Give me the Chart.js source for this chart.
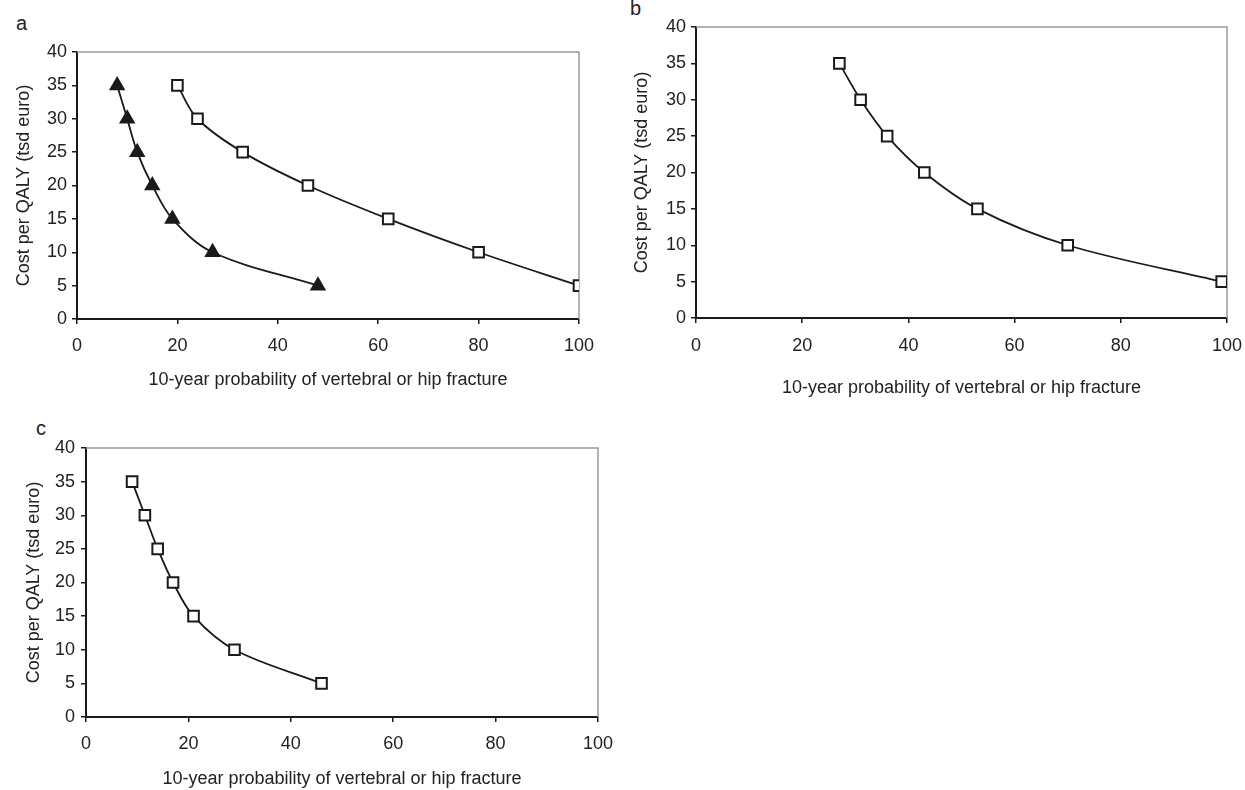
<!DOCTYPE html>
<html>
<head>
<meta charset="utf-8">
<script src="https://cdn.jsdelivr.net/npm/chart.js@4"></script>
<style>
  body { margin: 0; background: #fff; width: 1245px; height: 790px; overflow: hidden; position: relative; }
  canvas { position: absolute; }
  .tag { position: absolute; font-family: "Liberation Sans", Arial, sans-serif; font-size: 20px; color: #222; line-height: 1; }
</style>
</head>
<body>
<div class="tag" style="left:16px;top:13px">a</div>
<div class="tag" style="left:630px;top:-2px">b</div>
<div class="tag" style="left:36px;top:418px">c</div>
<canvas id="ca" width="610" height="370" style="left:0;top:30px"></canvas>
<canvas id="cb" width="625" height="405" style="left:620px;top:0"></canvas>
<canvas id="cc" width="620" height="372" style="left:0;top:420px"></canvas>
<script>
// cost per QALY (tsd euro), same for every curve
var costs = [35, 30, 25, 20, 15, 10, 5];
// 10-year fracture probability
var aTriangles = [8, 10, 12, 15, 19, 27, 48];
var aSquares = [20, 24, 33, 46, 62, 80, 100];
var bSquares = [27, 31, 36, 43, 53, 70, 99];
var cSquares = [9, 11.5, 14, 17, 21, 29, 46];

var yTitle = "Cost per QALY (tsd euro)";
var xTitle = "10-year probability of vertebral or hip fracture";

Chart.defaults.font.family = "'Liberation Sans', Arial, sans-serif";
Chart.defaults.color = "#222";

function points(xs) {
    return xs.map(function (x, i) { return { x: x, y: costs[i] }; });
}

function curve(xs, shape) {
    return {
        data: points(xs),
        showLine: true,
        borderColor: "#1a1a1a",
        borderWidth: 1.8,
        tension: 0.35,
        pointStyle: shape,
        pointRadius: 7.5,
        pointBorderWidth: 2,
        pointBorderColor: "#1a1a1a",
        pointBackgroundColor: shape == "triangle" ? "#1a1a1a" : "#fff"
    };
}

// grey frame on top and right side, like the old spreadsheet plot
var frame = {
    id: "frame",
    beforeDatasetsDraw: function (chart) {
        var a = chart.chartArea, ctx = chart.ctx;
        ctx.save();
        ctx.strokeStyle = "#9a9a9a";
        ctx.lineWidth = 1.5;
        ctx.beginPath();
        ctx.moveTo(a.left, a.top);
        ctx.lineTo(a.right, a.top);
        ctx.lineTo(a.right, a.bottom);
        ctx.stroke();
        ctx.restore();
    }
};

function draw(id, datasets, p) {
    new Chart(document.getElementById(id), {
        type: "scatter",
        data: { datasets: datasets },
        plugins: [frame],
        options: {
            responsive: false,
            animation: false,
            layout: { padding: { top: p.top, right: p.right, left: 0, bottom: 0 } },
            plugins: { legend: { display: false }, tooltip: { enabled: false } },
            scales: {
                x: {
                    min: 0, max: 100,
                    afterFit: function (s) { s.height = p.xh; s.paddingLeft = 0; s.paddingRight = 0; },
                    ticks: { stepSize: 20, padding: p.xpad, font: { size: 18 }, color: "#222", maxRotation: 0 },
                    grid: { drawOnChartArea: false, drawTicks: true, tickLength: 5, color: "#1a1a1a", lineWidth: 1.5 },
                    border: { display: true, color: "#1a1a1a", width: 2 },
                    title: { display: true, text: xTitle, font: { size: 18, lineHeight: 1.2 }, color: "#222", padding: { top: 0, bottom: p.xtpad } }
                },
                y: {
                    min: 0, max: 40,
                    afterFit: function (s) { s.width = p.yw; s.paddingTop = 0; s.paddingBottom = 0; },
                    ticks: { stepSize: 5, padding: p.ypad, font: { size: 18 }, color: "#222" },
                    grid: { drawOnChartArea: false, drawTicks: true, tickLength: 5, color: "#1a1a1a", lineWidth: 1.5 },
                    border: { display: true, color: "#1a1a1a", width: 2 },
                    title: { display: true, text: yTitle, font: { size: 18, lineHeight: 1.2 }, color: "#222", padding: { top: p.ytpad, bottom: 0 } }
                }
            }
        }
    });
}

draw("ca", [curve(aTriangles, "triangle"), curve(aSquares, "rect")],
     { top: 22, right: 31, xh: 81, yw: 77, xpad: 11.5, xtpad: 9, ypad: 5, ytpad: 13 });
draw("cb", [curve(bSquares, "rect")],
     { top: 27, right: 18, xh: 87, yw: 76, xpad: 12, xtpad: 6, ypad: 5, ytpad: 11 });
draw("cc", [curve(cSquares, "rect")],
     { top: 28, right: 22, xh: 75, yw: 86, xpad: 11.5, xtpad: 2, ypad: 6, ytpad: 23 });
</script>
</body>
</html>
